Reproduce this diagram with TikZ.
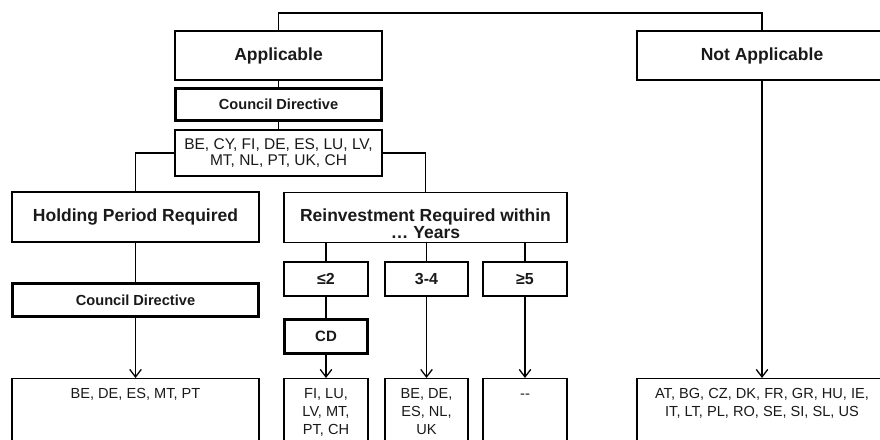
\documentclass[tikz,border=0pt]{standalone}
\usepackage{fontspec}
\setmainfont{Liberation Sans}
\usetikzlibrary{arrows.meta}
\begin{document}
\begin{tikzpicture}[x=1pt,y=-1pt,
  box/.style={draw, line width=1.3pt, rectangle, inner sep=0pt, align=center, text=black!90},
  headbox/.style={box, minimum height=49pt, font=\fontsize{17.5}{17.5}\selectfont\bfseries},
  cdbox/.style={box, line width=2.4pt, font=\fontsize{14.6}{16}\selectfont\bfseries},
  yearbox/.style={box, minimum width=84pt, minimum height=34pt, font=\fontsize{16}{16}\selectfont\bfseries},
  listbox/.style={box, anchor=north, font=\fontsize{14.6}{18}\selectfont},
  link/.style={line width=1.3pt},
  arr/.style={link, -{Straight Barb[length=7.5pt,width=11.5pt,line width=1.3pt]}}
]
\useasboundingbox (0,0) rectangle (880,439);
\clip (0,0) rectangle (880,439);

% upper tier
\node[headbox, minimum width=207pt] (app) at (278.5,55.5) {Applicable};
\node[headbox, minimum width=250pt] (notapp) at (762,55.5) {Not Applicable};
\node[cdbox, minimum width=206pt, minimum height=32pt] (cd1) at (278.5,104.5) {Council Directive};
\node[box, minimum width=207pt, minimum height=46pt, font=\fontsize{15.5}{16.5}\selectfont] (ctry) at (278.5,153)
  {BE, CY, FI, DE, ES, LU, LV,\\MT, NL, PT, UK, CH};

% second tier
\node[headbox, minimum width=247pt, minimum height=50pt] (hold) at (135.5,217) {Holding Period Required};
\node[box, anchor=north, font=\fontsize{17.5}{17}\selectfont\bfseries] (reinv) at (425.5,192)
  {\parbox[c][50pt][t]{283pt}{\centering\rule{0pt}{29pt}Reinvestment Required within\\… Years}};

% year brackets
\node[yearbox] (le2) at (326,279) {≤2};
\node[yearbox, minimum width=83pt] (y34) at (426.5,279) {3-4};
\node[yearbox] (ge5) at (525,279) {≥5};

% directive boxes
\node[cdbox, minimum width=246pt, minimum height=33pt] (cd2) at (135.5,300) {Council Directive};
\node[cdbox, minimum width=83pt, minimum height=34pt, font=\fontsize{15}{15}\selectfont\bfseries] (cd3) at (326,336.5) {CD};

% country lists
\node[listbox] (lst1) at (135.5,378) {\parbox[c][70pt][t]{247pt}{\centering\rule{0pt}{20pt}BE, DE, ES, MT, PT}};
\node[listbox] (lst2) at (326,378) {\parbox[c][70pt][t]{84pt}{\centering\rule{0pt}{20pt}FI, LU,\\LV, MT,\\PT, CH}};
\node[listbox] (lst3) at (426.5,378) {\parbox[c][70pt][t]{83pt}{\centering\rule{0pt}{20pt}BE, DE,\\ES, NL,\\UK}};
\node[listbox] (lst4) at (525,378) {\parbox[c][70pt][t]{84pt}{\centering\rule{0pt}{20pt}-{}-}};
\node[listbox] (lst5) at (762,378) {\parbox[c][70pt][t]{250pt}{\centering\rule{0pt}{20pt}AT, BG, CZ, DK, FR, GR, HU, IE,\\IT, LT, PL, RO, SE, SI, SL, US}};

% connectors
\draw[link] (app.north) -- ++(0,-17.5) -| (notapp.north);
\draw[link] (app.south) -- (cd1.north);
\draw[link] (cd1.south) -- (ctry.north);
\draw[link] (ctry.west) -| (hold.north);
\draw[link] (ctry.east) -| (reinv.north);
\draw[link] (hold.south) -- (cd2.north);
\draw[link] (le2.north |- reinv.south) -- (le2.north);
\draw[link] (y34.north |- reinv.south) -- (y34.north);
\draw[link] (ge5.north |- reinv.south) -- (ge5.north);
\draw[link] (le2.south) -- (cd3.north);

% arrows into the lists
\draw[arr] (cd2.south) -- (lst1.north);
\draw[arr] (cd3.south) -- (lst2.north);
\draw[arr] (y34.south) -- (lst3.north);
\draw[arr] (ge5.south) -- (lst4.north);
\draw[arr] (notapp.south) -- (lst5.north);
\end{tikzpicture}
\end{document}
